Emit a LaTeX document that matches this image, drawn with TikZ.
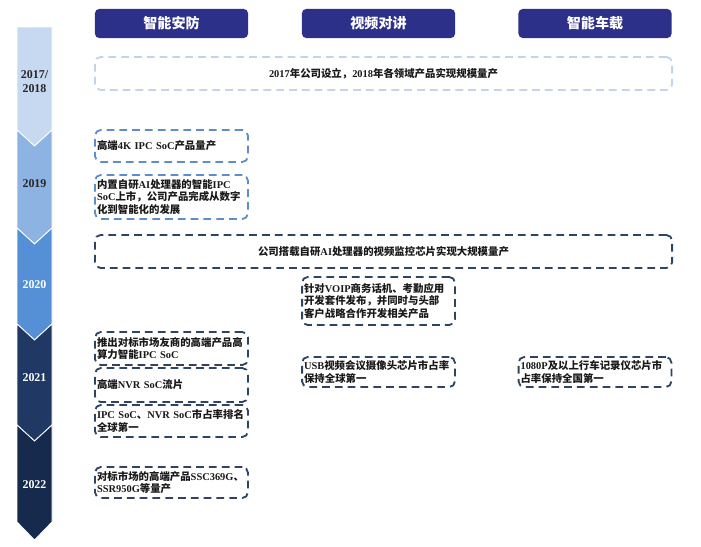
\documentclass[tikz,border=0pt]{standalone}
\usepackage{fontspec}
\setmainfont{Liberation Serif}
\newfontfamily\zhfont{Noto Sans CJK SC}
% switch to the CJK face for Chinese characters
\XeTeXinterchartokenstate=1
\newXeTeXintercharclass\zhclass
\newcount\zhcode
\zhcode="3000
\loop\ifnum\zhcode<"A000 \XeTeXcharclass\zhcode=\zhclass \advance\zhcode by 1 \repeat
\zhcode="FF00
\loop\ifnum\zhcode<"FFF0 \XeTeXcharclass\zhcode=\zhclass \advance\zhcode by 1 \repeat
\XeTeXinterchartoks 0 \zhclass = {\zhfont}
\XeTeXinterchartoks 4095 \zhclass = {\zhfont}
\XeTeXinterchartoks \zhclass 0 = {\rmfamily}
\XeTeXinterchartoks \zhclass 4095 = {\rmfamily}

\definecolor{headblue}{HTML}{2D3088}
\definecolor{segA}{HTML}{C6D9F1}
\definecolor{segB}{HTML}{8DB3E2}
\definecolor{segC}{HTML}{5590D6}
\definecolor{segD}{HTML}{1F3864}
\definecolor{segE}{HTML}{152A4D}
\definecolor{dashA}{HTML}{C3D4E8}
\definecolor{dashB}{HTML}{5E8DCB}
\definecolor{dashC}{HTML}{2E4562}

\tikzset{
  head/.style={fill=headblue, rounded corners=3pt, text=white,
    font=\fontsize{10}{12}\selectfont\bfseries,
    minimum width=3.825cm, minimum height=0.725cm},
  evt/.style={draw=#1, line width=1.3pt, dash pattern=on 5.5pt off 3.6pt,
    rounded corners=4pt, text=black!90, inner ysep=0pt,
    font=\fontsize{7.4}{8.8}\selectfont\bfseries},
  slim/.style={text width=3.72cm, align=left, inner xsep=0.05cm},
  wide/.style={minimum width=14.425cm, minimum height=0.825cm, align=center},
  yr/.style={font=\fontsize{8.5}{10}\selectfont\bfseries, align=center},
}

\begin{document}
\begin{tikzpicture}[x=0.025cm, y=-0.025cm]
\useasboundingbox (0,0) rectangle (701,546);

% time line on the left
\foreach \t/\d/\b/\e/\c in {27/0/130/16/segA, 130/16/228/16/segB,
  228/16/324/16/segC, 324/16/425/16/segD, 425/16/522/18/segE}
  \filldraw[fill=\c, draw=white, line width=0.6pt]
    (17,\t) -- (34.5,\t+\d) -- (52,\t) -- (52,\b) -- (34.5,\b+\e) -- (17,\b) -- cycle;

\node[yr, text=black!85] (y17) at (34.5,82) {2017/\\2018};
\node[yr, text=black!85] (y19) at (34.5,184) {2019};
\node[yr, text=white] (y20) at (34.5,285) {2020};
\node[yr, text=white] (y21) at (34.5,378) {2021};
\node[yr, text=white] (y22) at (34.5,485) {2022};

% fields
\node[head] (hsec) at (171.5,23.5) {智能安防};
\node[head] (hvid) at (378.5,23.5) {视频对讲};
\node[head] (hcar) at (595,23.5) {智能车载};

% events
\node[evt=dashA, wide] (b17) at (383.5,73.5) {2017年公司设立，2018年各领域产品实现规模量产};

\node[evt=dashB, slim, minimum height=0.8cm] (b19a) at (171.5,146) {高端4K IPC SoC产品量产};
\node[evt=dashB, slim, minimum height=1.1cm] (b19b) at (171.5,197)
  {内置自研AI处理器的智能IPC\\SoC上市，公司产品完成从数字\\化到智能化的发展};

\node[evt=dashC, wide] (b20a) at (383.5,251.5) {公司搭载自研AI处理器的视频监控芯片实现大规模量产};
\node[evt=dashC, slim, minimum height=1.2cm] (b20b) at (378.5,301)
  {针对VOIP商务话机、考勤应用\\开发套件发布，并同时与头部\\客户战略合作开发相关产品};

\node[evt=dashC, slim, minimum height=0.825cm] (b21a) at (171.5,348.5)
  {推出对标市场友商的高端产品高\\算力智能IPC SoC};
\node[evt=dashC, slim, minimum height=0.85cm] (b21b) at (171.5,385) {高端NVR SoC流片};
\node[evt=dashC, slim, minimum height=0.8cm] (b21c) at (171.5,421)
  {IPC SoC、NVR SoC市占率排名\\全球第一};
\node[evt=dashC, slim, minimum height=0.75cm] (b21d) at (378.5,372)
  {USB视频会议摄像头芯片市占率\\保持全球第一};
\node[evt=dashC, slim, minimum height=0.75cm] (b21e) at (595,372)
  {1080P及以上行车记录仪芯片市\\占率保持全国第一};

\node[evt=dashC, slim, minimum height=0.775cm] (b22a) at (171.5,482.5)
  {对标市场的高端产品SSC369G、\\SSR950G等量产};
\end{tikzpicture}
\end{document}
